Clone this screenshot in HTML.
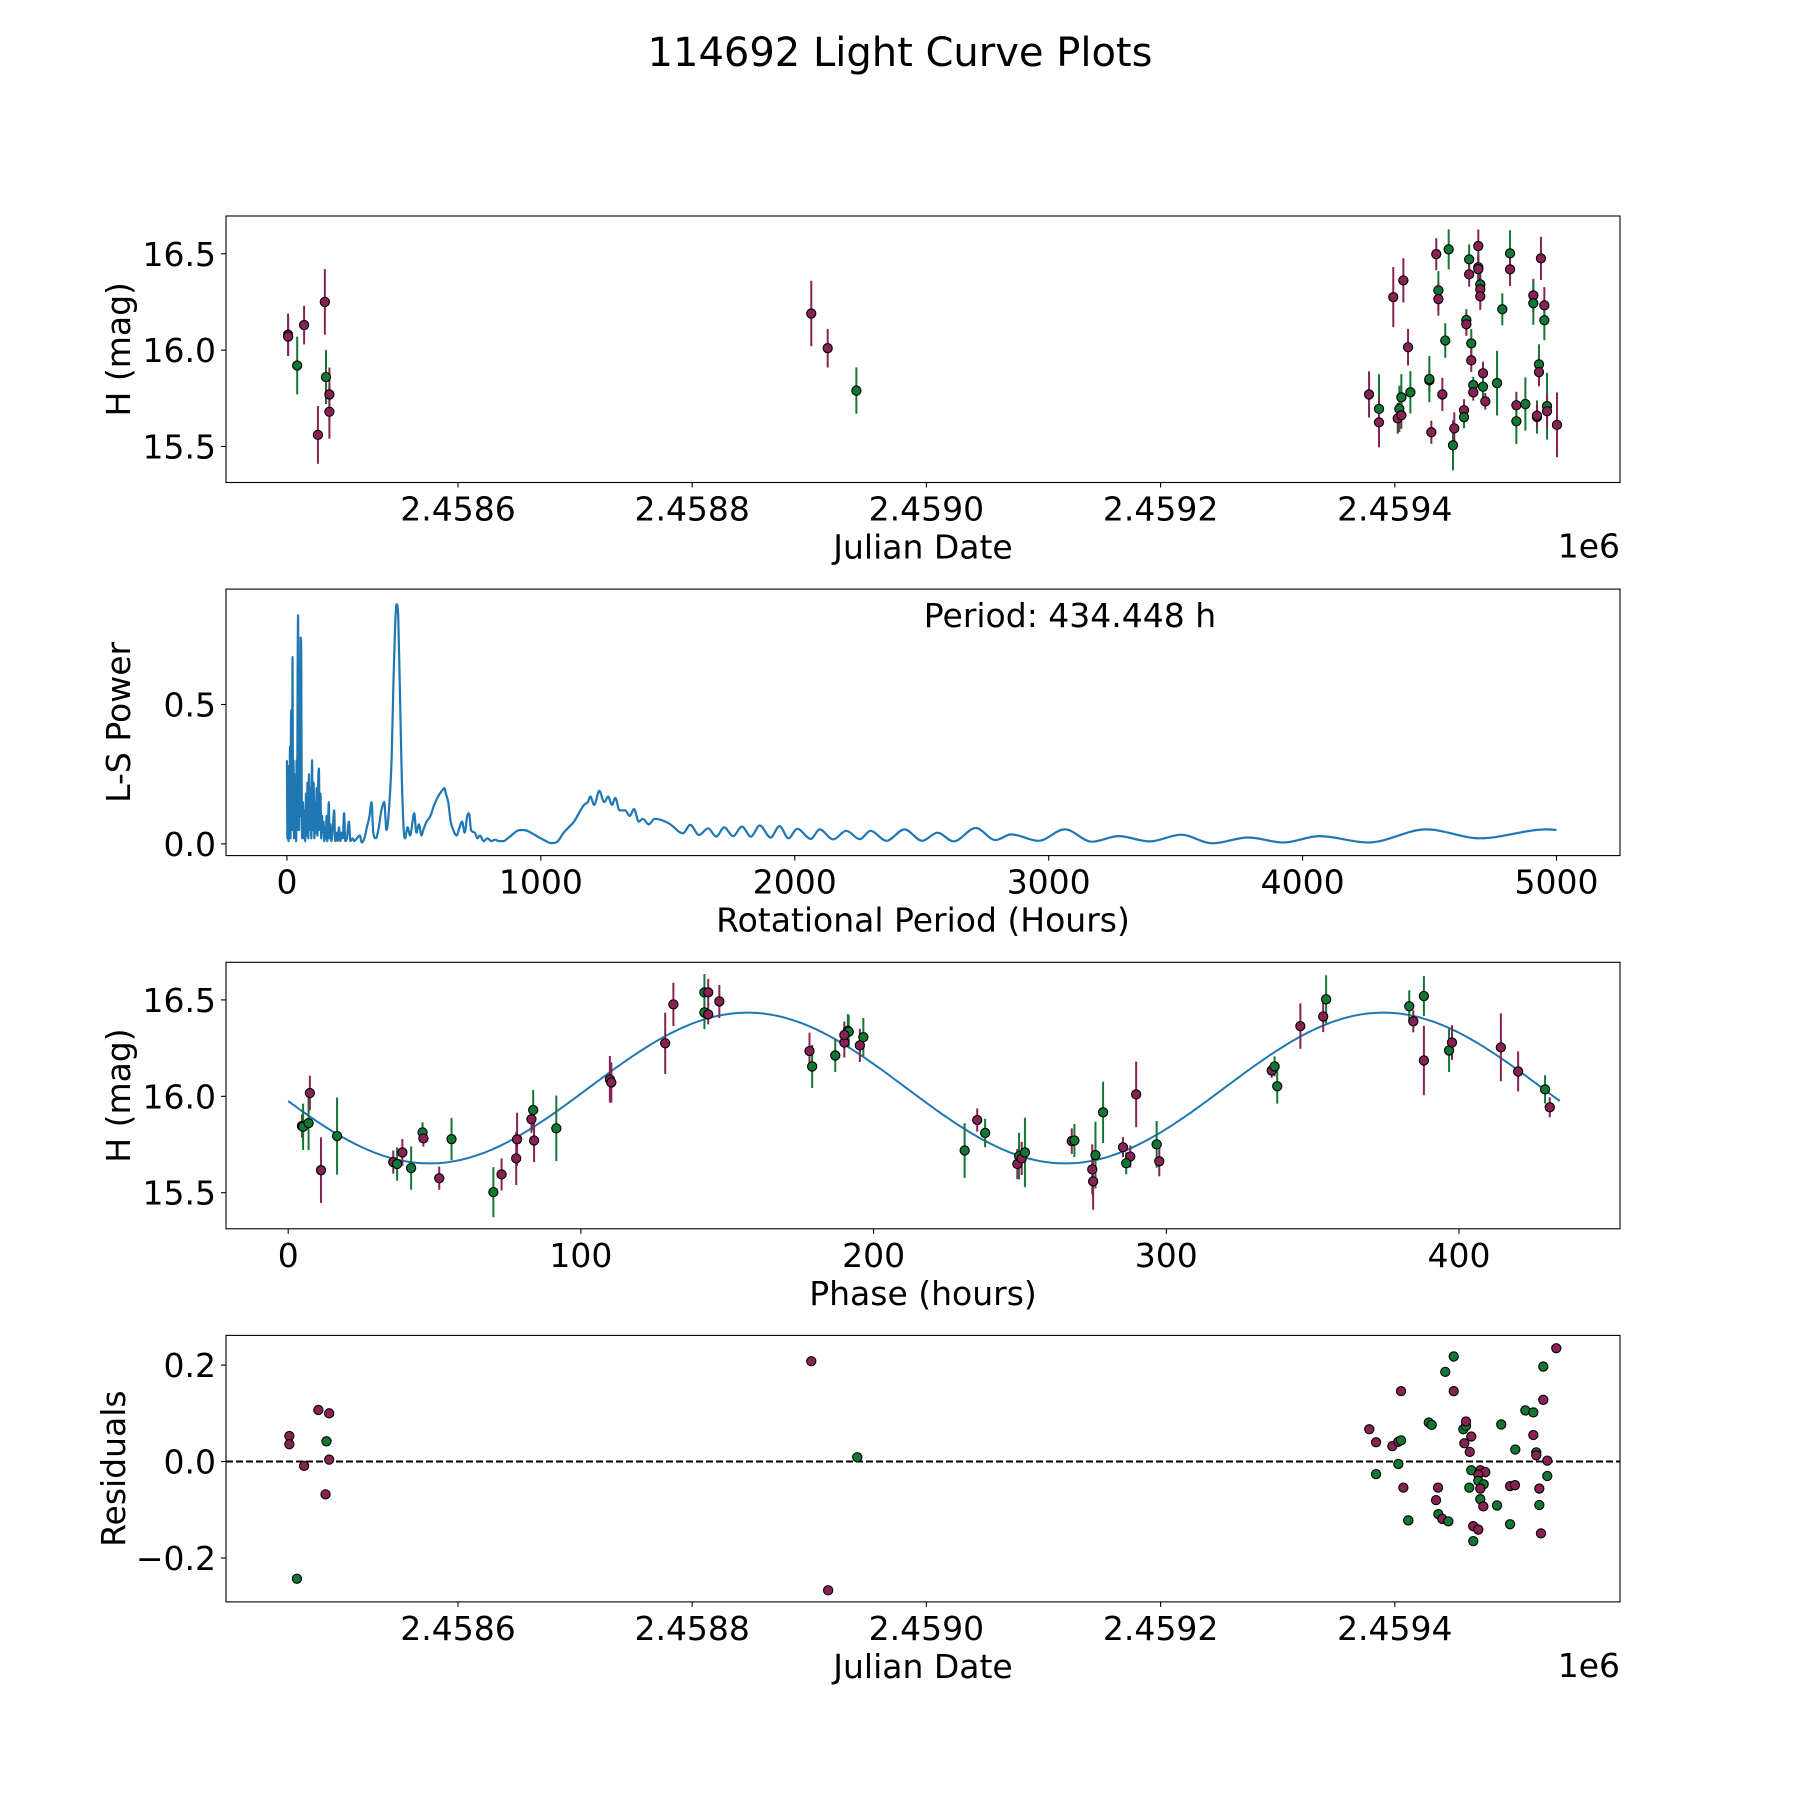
<!DOCTYPE html>
<html><head><meta charset="utf-8"><title>114692 Light Curve Plots</title>
<style>
html,body{margin:0;padding:0;background:#fff;}
svg{display:block;font-family:"DejaVu Sans","Liberation Sans",sans-serif;}
</style></head>
<body>
<svg id="fig" xmlns="http://www.w3.org/2000/svg" width="1800" height="1800" viewBox="0 0 1800 1800">
<rect x="0" y="0" width="1800" height="1800" fill="#fff"/>
<text x="900" y="66" font-size="40" text-anchor="middle" fill="#000">114692 Light Curve Plots</text>
</svg>
<script>
// ---------- Panel 1: light curve (JD vs H) ----------
const lcJD = [2458454.9,2458455.0,2458462.7,2458468.6,2458480.4,2458486.3,2458487.3,2458490.2,2458490.2,
2458901.7,2458915.7,2458940.2,
2459378.0,2459386.5,2459386.5,2459398.7,2459402.5,2459403.9,2459405.6,2459405.6,2459407.3,2459411.3,2459413.3,
2459429.5,2459429.5,2459431.2,2459435.4,2459437.2,2459437.2,2459440.6,2459443.1,2459446.0,2459449.7,2459450.8,
2459459.1,2459459.1,2459461.1,2459461.1,2459463.5,2459463.5,2459465.3,2459465.3,2459467.0,2459467.0,
2459471.3,2459471.3,2459471.3,2459473.0,2459473.0,2459473.0,2459475.3,2459475.3,2459477.3,2459487.3,2459491.8,
2459498.4,2459498.4,2459503.8,2459503.8,2459511.5,2459518.3,2459518.3,2459521.4,2459521.4,2459523.1,2459523.1,
2459524.8,2459527.7,2459527.7,2459530.0,2459530.0,2459538.5];
const lcMag = [16.08,16.07,15.92,16.13,15.56,16.25,15.86,15.77,15.68,
16.19,16.01,15.79,
15.77,15.695,15.625,16.275,15.646,15.695,15.662,15.755,16.362,16.015,15.781,
15.843,15.85,15.574,16.498,16.31,16.265,15.77,16.05,16.523,15.506,15.594,
15.688,15.652,16.156,16.134,16.471,16.393,16.035,15.947,15.819,15.781,
16.54,16.43,16.42,16.341,16.315,16.279,15.88,15.81,15.734,15.829,16.212,
16.502,16.419,15.714,15.631,15.72,16.284,16.243,15.653,15.66,15.926,15.886,
16.476,16.232,16.155,15.709,15.683,15.612];
const lcErr = [0.11,0.10,0.15,0.10,0.15,0.17,0.14,0.14,0.14,
0.17,0.10,0.12,
0.12,0.18,0.13,0.156,0.08,0.12,0.07,0.12,0.115,0.095,0.11,
0.06,0.12,0.06,0.083,0.10,0.086,0.086,0.09,0.104,0.13,0.083,
0.057,0.057,0.057,0.06,0.078,0.064,0.074,0.06,0.043,0.043,
0.086,0.07,0.07,0.07,0.07,0.07,0.06,0.07,0.043,0.168,0.083,
0.12,0.086,0.07,0.118,0.138,0.086,0.112,0.086,0.06,0.104,0.074,
0.112,0.095,0.104,0.173,0.086,0.168];
const lcBand = ['m','m','g','m','m','m','g','m','m',
'm','m','g',
'm','g','m','m','m','g','m','g','m','m','g',
'm','g','m','m','g','m','m','g','g','g','m',
'm','g','g','m','g','m','g','m','g','m',
'm','g','m','g','m','m','m','g','m','g','g',
'g','m','m','g','g','m','g','g','m','g','m',
'm','m','g','g','m','m'];
const jdTicks = [2458600,2458800,2459000,2459200,2459400];
const jdTickLabels = ['2.4586','2.4588','2.4590','2.4592','2.4594'];
const magTicks = [15.5,16.0,16.5];
const magTickLabels = ['15.5','16.0','16.5'];

// ---------- Panel 2: Lomb-Scargle periodogram ----------
const lsPeriod = [0,2,4,6,8,10,12,14,16,18,20,22,24,26,28,30,32,34,36,38,40,42,44,46,48,50,52,54,56,58,60,
63,66,69,72,75,78,81,84,87,90,93,96,99,102,105,108,111,114,117,120,123,126,129,132,135,138,141,144,147,150,153,156,159,162,165,168,171,175,180,186,190,195,200,205,210,215,220,225,230,236,244,250,258,265,275,287,295,305,315,325,333,340,350,360,372,383,392,400,412,420,426,432,438,445,452,460,465,475,485,495,501,510,520,530,537,550,565,580,595,610,620,626,635,645,655,668,680,690,700,710,717,725,740,750,760,775,790,805,820,835,852,870,890,910,931,950,980,1010,1040,1060,1090,1110,1131,1150,1170,1185,1195,1210,1230,1250,1265,1280,1293,1310,1332,1350,1367,1385,1402,1425,1448,1504,
1560,1588,1623,1659,1690,1722,1757,1792,1827,1862,1905,1940,1975,2010,2063,2098,2151,2203,2256,2298,2361,2432,2502,2562,2625,2713,2790,2853,2959,3064,3170,3275,3398,3521,3644,3785,3925,4066,4259,4487,4698,4962,5000];
const lsPower = [0.30,0.02,0.28,0.01,0.25,0.03,0.35,0.02,0.45,0.48,0.05,0.67,0.10,0.30,0.02,0.25,0.05,0.20,0.01,0.30,0.05,0.60,0.82,0.30,0.05,0.40,0.10,0.74,0.70,0.20,0.02,
0.15,0.02,0.12,0.01,0.18,0.03,0.22,0.02,0.25,0.05,0.20,0.02,0.30,0.05,0.22,0.02,0.15,0.04,0.20,0.03,0.22,0.27,0.05,0.18,0.02,0.10,0.04,0.08,0.01,0.06,0.02,0.10,0.01,0.08,0.15,0.02,0.07,0.01,0.05,0.12,0.01,0.04,0.01,0.06,0.01,0.04,0.02,0.11,0.01,0.02,0.08,0.01,0.02,0.01,0.02,0.03,0.005,0.02,0.06,0.10,0.15,0.04,0.02,0.05,0.12,0.15,0.05,0.10,0.30,0.60,0.78,0.86,0.82,0.55,0.25,0.05,0.02,0.06,0.03,0.08,0.11,0.04,0.07,0.03,0.05,0.08,0.10,0.14,0.17,0.19,0.20,0.18,0.15,0.08,0.05,0.03,0.06,0.08,0.04,0.10,0.11,0.05,0.04,0.02,0.03,0.01,0.02,0.01,0.015,0.01,0.01,0.02,0.035,0.048,0.05,0.045,0.03,0.015,0.003,0.005,0.04,0.06,0.08,0.11,0.14,0.15,0.17,0.14,0.19,0.15,0.17,0.14,0.165,0.12,0.12,0.10,0.125,0.08,0.09,0.07,0.09,0.074,
0.038,0.068,0.032,0.056,0.026,0.059,0.028,0.062,0.026,0.066,0.023,0.064,0.020,0.054,0.018,0.052,0.016,0.047,0.017,0.047,0.011,0.052,0.011,0.040,0.009,0.057,0.014,0.034,0.011,0.052,0.008,0.028,0.009,0.033,0.002,0.023,0.005,0.028,0.005,0.052,0.020,0.052,0.050];
const lsXTicks = [0,1000,2000,3000,4000,5000];
const lsXTickLabels = ['0','1000','2000','3000','4000','5000'];
const lsYTicks = [0.0,0.5];
const lsYTickLabels = ['0.0','0.5'];
const bestPeriodLabel = 'Period: 434.448 h';

// ---------- Panel 3: phase-folded ----------
const phHours = [4.7,5.1,6.96,7.4,11.2,16.7,35.9,37.2,39.0,42.0,45.9,46.2,51.6,55.8,70.1,72.9,77.9,78.2,83.1,83.7,84.0,91.6,109.9,110.4,128.8,131.6,142.2,143.5,142.2,143.5,147.3,178.1,179.0,186.9,190.0,191.2,191.5,190.0,195.3,196.5,
231.1,235.4,238.1,249.1,249.7,250.6,251.7,267.7,268.6,274.7,275.0,275.8,278.4,289.7,285.2,287.7,286.3,296.7,297.6,336.0,337.0,337.9,345.8,353.6,354.6,383.0,384.4,388.0,388.0,396.6,397.6,414.3,420.2,429.4,431.0];
const phMag = [15.846,15.842,15.861,16.017,15.617,15.794,15.659,15.649,15.709,15.628,15.813,15.782,15.575,15.778,15.503,15.595,15.678,15.777,15.881,15.929,15.771,15.834,16.088,16.072,16.275,16.477,16.539,16.539,16.435,16.425,16.492,16.235,16.155,16.212,16.279,16.34,16.335,16.318,16.264,16.307,
15.719,15.877,15.81,15.649,15.69,15.678,15.709,15.768,15.771,15.621,15.559,15.695,15.917,16.01,15.736,15.688,15.653,15.751,15.663,16.134,16.155,16.052,16.364,16.414,16.503,16.467,16.389,16.52,16.186,16.238,16.279,16.254,16.129,16.036,15.943];
const phErr = [0.06,0.12,0.14,0.09,0.17,0.20,0.06,0.086,0.07,0.112,0.052,0.043,0.06,0.109,0.13,0.083,0.138,0.138,0.07,0.104,0.112,0.17,0.121,0.104,0.159,0.112,0.095,0.07,0.086,0.052,0.086,0.095,0.112,0.086,0.078,0.086,0.086,0.07,0.086,0.099,
0.142,0.06,0.074,0.078,0.121,0.086,0.18,0.066,0.086,0.13,0.147,0.173,0.159,0.17,0.052,0.057,0.057,0.121,0.078,0.038,0.052,0.09,0.118,0.081,0.125,0.083,0.057,0.104,0.18,0.112,0.09,0.176,0.104,0.073,0.052];
const phBand = ['m','g','g','m','m','g','m','g','m','g','g','m','m','g','g','m','m','m','m','g','m','g','m','m','m','m','g','m','g','m','m','m','g','g','m','g','g','m','m','g',
'g','m','g','m','g','m','g','m','g','m','m','g','g','m','m','m','g','g','m','m','g','g','m','m','g','g','m','g','m','g','m','m','m','g','m'];
const fitParams = [16.043, 0.391, 156.9, 217.224]; // mean, amplitude, phase of max, half period (h)
const fitPeriod = [434.448];
const phXTicks = [0,100,200,300,400];
const phXTickLabels = ['0','100','200','300','400'];

// ---------- Panel 4: residuals ----------
const resJD = [2458456.0,2458456.0,2458462.5,2458468.6,2458480.8,2458490.0,2458487.7,2458490.0,2458486.9,
2458901.7,2458916.1,2458941.0,
2459378.2,2459384.0,2459384.0,2459397.9,2459403.0,2459405.3,2459403.0,2459405.3,2459407.3,2459411.5,2459411.5,
2459429.0,2459431.5,2459435.2,2459436.9,2459437.2,2459440.6,2459445.7,2459443.1,2459450.3,2459450.3,2459458.5,2459460.8,2459460.8,
2459465.3,2459459.4,2459464.0,2459465.3,2459473.0,2459477.3,2459471.3,2459471.3,2459475.9,2459463.6,2459473.0,2459473.0,2459475.6,
2459467.0,2459471.3,2459467.0,2459487.3,2459490.9,2459502.9,2459498.4,2459502.6,2459498.4,2459511.5,2459518.3,2459518.3,
2459520.8,2459520.8,2459526.8,2459526.8,2459530.2,2459530.2,2459523.4,2459523.4,2459524.8,2459537.9];
const resVal = [0.053,0.036,-0.243,-0.009,0.107,0.100,0.042,0.004,-0.068,
0.208,-0.267,0.009,
0.067,0.040,-0.026,0.032,0.041,0.044,-0.005,0.146,-0.054,-0.122,-0.122,
0.081,0.076,-0.080,-0.054,-0.109,-0.119,-0.124,0.186,0.218,0.146,0.067,0.074,0.083,
0.052,0.038,0.020,-0.018,-0.018,-0.022,-0.027,-0.040,-0.047,-0.054,-0.056,-0.078,-0.093,
-0.134,-0.141,-0.165,-0.091,0.077,0.025,-0.051,-0.049,-0.130,0.106,0.102,0.055,
0.019,0.013,0.197,0.128,0.002,-0.030,-0.056,-0.090,-0.149,0.235];
const resBand = ['m','m','g','m','m','m','g','m','m',
'm','m','g',
'm','m','g','m','m','g','g','m','m','m','g',
'g','g','m','m','g','m','g','g','g','m','g','g','m',
'm','m','m','g','m','m','m','g','g','g','m','g','m',
'm','m','g','g','g','g','m','m','g','g','g','m',
'g','m','g','m','m','g','m','g','m','m'];
const resTicks = [-0.2,0.0,0.2];
const resTickLabels = ['\u22120.2','0.0','0.2'];

// ---------- rendering ----------
const NS = 'http://www.w3.org/2000/svg';
const svg = document.getElementById('fig');
const COL = {m:'#882255', g:'#117733'};
const X0 = 226, X1 = 1620;
function mk(tag, attrs, parent){
  const e = document.createElementNS(NS, tag);
  for (const k in attrs) e.setAttribute(k, attrs[k]);
  (parent||svg).appendChild(e);
  return e;
}
function lin(d0,d1,p0,p1){ return v => p0 + (v-d0)*(p1-p0)/(d1-d0); }

function axesFrame(name){
  const g = mk('g', {});
  
  
  return g;
}
function drawSpines(g, top, bot){
  const r = mk('rect', {x:X0, y:top, width:X1-X0, height:bot-top, fill:'none', stroke:'#000', 'stroke-width':1.1}, g);
  
  
}
function xTicks(g, bot, ticks, labels, sx){
  ticks.forEach((t,i)=>{
    const x = sx(t);
    const l = mk('line', {x1:x, x2:x, y1:bot, y2:bot+5, stroke:'#000', 'stroke-width':1.1}, g);
    
    
    const tx = mk('text', {x:x, y:bot+38, 'font-size':33, 'text-anchor':'middle'}, g);
    
    
    tx.textContent = labels[i];
  });
}
function yTicks(g, ticks, labels, sy){
  ticks.forEach((t,i)=>{
    const y = sy(t);
    const l = mk('line', {x1:X0-5, x2:X0, y1:y, y2:y, stroke:'#000', 'stroke-width':1.1}, g);
    
    
    const tx = mk('text', {x:X0-10, y:y+12, 'font-size':33, 'text-anchor':'end'}, g);
    
    
    tx.textContent = labels[i];
  });
}
function labels(g, top, bot, xl, yl, yx){
  const t1 = mk('text', {x:(X0+X1)/2, y:bot+76, 'font-size':33, 'text-anchor':'middle'}, g);
  
  
  t1.textContent = xl;
  const cy = (top+bot)/2;
  const t2 = mk('text', {x:yx, y:cy, 'font-size':33, 'text-anchor':'middle', transform:'rotate(-90 '+yx+' '+cy+')'}, g);
  
  
  t2.textContent = yl;
}
function offsetLabel(g, bot){
  const t = mk('text', {x:X1, y:bot+75, 'font-size':33, 'text-anchor':'end'}, g);
  
  
  t.textContent = '1e6';
}
function errPoints(g, xs, ys, es, bands, sx, sy){
  xs.forEach((x,i)=>{
    const px = sx(x);
    const l = mk('line', {x1:px, x2:px, y1:sy(ys[i]+es[i]), y2:sy(ys[i]-es[i]), stroke:COL[bands[i]], 'stroke-width':2}, g);
    
    
  });
  xs.forEach((x,i)=>{
    const c = mk('circle', {cx:sx(x), cy:sy(ys[i]), r:4.6, fill:COL[bands[i]], stroke:'#000', 'stroke-width':1.1}, g);
    
    
  });
}
// monotone cubic path through pixel points
function monotonePath(px, py){
  const n = px.length;
  const d = [], m = new Array(n);
  for (let i=0;i<n-1;i++) d.push((py[i+1]-py[i])/((px[i+1]-px[i])||1e-6));
  m[0]=d[0]; m[n-1]=d[n-2];
  for (let i=1;i<n-1;i++) m[i] = (d[i-1]*d[i] <= 0) ? 0 : (d[i-1]+d[i])/2;
  for (let i=0;i<n-1;i++){
    if (d[i]===0){ m[i]=0; m[i+1]=0; continue; }
    const a=m[i]/d[i], b=m[i+1]/d[i], s=a*a+b*b;
    if (s>9){ const t=3/Math.sqrt(s); m[i]=t*a*d[i]; m[i+1]=t*b*d[i]; }
  }
  let s = 'M'+px[0].toFixed(1)+','+py[0].toFixed(1);
  for (let i=0;i<n-1;i++){
    const h=(px[i+1]-px[i])/3;
    s += ' C'+(px[i]+h).toFixed(1)+','+(py[i]+m[i]*h).toFixed(1)+' '+(px[i+1]-h).toFixed(1)+','+(py[i+1]-m[i+1]*h).toFixed(1)+' '+px[i+1].toFixed(1)+','+py[i+1].toFixed(1);
  }
  return s;
}

// Panel 1
(function(){
  const top=216, bot=482.5;
  const sx = lin(2458401.9, 2459592.3, X0, X1);
  const sy = lin(15.313, 16.696, bot, top);
  const g = axesFrame('light-curve-panel');
  errPoints(g, lcJD, lcMag, lcErr, lcBand, sx, sy);
  drawSpines(g, top, bot);
  xTicks(g, bot, jdTicks, jdTickLabels, sx);
  yTicks(g, magTicks, magTickLabels, sy);
  labels(g, top, bot, 'Julian Date', 'H (mag)', 130);
  offsetLabel(g, bot);
})();

// Panel 2
(function(){
  const top=589.1, bot=855.6;
  const sx = lin(-240, 5250, X0, X1);
  const sy = lin(-0.042, 0.914, bot, top);
  const g = axesFrame('periodogram-panel');
  const px = lsPeriod.map(sx), py = lsPower.map(sy);
  const pl = mk('path', {d:monotonePath(px, py), fill:'none', stroke:'#1f77b4', 'stroke-width':2.2, 'stroke-linejoin':'round'}, g);
  
  
  drawSpines(g, top, bot);
  xTicks(g, bot, lsXTicks, lsXTickLabels, sx);
  yTicks(g, lsYTicks, lsYTickLabels, sy);
  labels(g, top, bot, 'Rotational Period (Hours)', 'L-S Power', 130);
  const t = mk('text', {x:1070, y:627, 'font-size':33, 'text-anchor':'middle'}, g);
  
  
  t.textContent = bestPeriodLabel;
})();

// Panel 3
(function(){
  const top=962.3, bot=1228.8;
  const sx = lin(-21.25, 455.0, X0, X1);
  const sy = lin(15.313, 16.695, bot, top);
  const g = axesFrame('phase-folded-panel');
  const pts = [];
  for (let i=0;i<=400;i++){
    const p = fitPeriod[0]*i/400;
    const m = fitParams[0] + fitParams[1]*Math.cos(2*Math.PI*(p-fitParams[2])/fitParams[3]);
    pts.push(sx(p).toFixed(1)+','+sy(m).toFixed(1));
  }
  const pl = mk('polyline', {points:pts.join(' '), fill:'none', stroke:'#1f77b4', 'stroke-width':2}, g);
  
  
  errPoints(g, phHours, phMag, phErr, phBand, sx, sy);
  drawSpines(g, top, bot);
  xTicks(g, bot, phXTicks, phXTickLabels, sx);
  yTicks(g, magTicks, magTickLabels, sy);
  labels(g, top, bot, 'Phase (hours)', 'H (mag)', 130);
})();

// Panel 4
(function(){
  const top=1335.4, bot=1601.9;
  const sx = lin(2458401.9, 2459592.3, X0, X1);
  const sy = lin(-0.291, 0.2616, bot, top);
  const g = axesFrame('residuals-panel');
  const zl = mk('line', {x1:X0, x2:X1, y1:sy(0), y2:sy(0), stroke:'#000', 'stroke-width':2, 'stroke-dasharray':'7,3'}, g);
  
  
  resJD.forEach((x,i)=>{
    const c = mk('circle', {cx:sx(x), cy:sy(resVal[i]), r:4.6, fill:COL[resBand[i]], stroke:'#000', 'stroke-width':1.1}, g);
    
    
  });
  drawSpines(g, top, bot);
  xTicks(g, bot, jdTicks, jdTickLabels, sx);
  yTicks(g, resTicks, resTickLabels, sy);
  labels(g, top, bot, 'Julian Date', 'Residuals', 125);
  offsetLabel(g, bot);
})();
</script>
</body></html>
